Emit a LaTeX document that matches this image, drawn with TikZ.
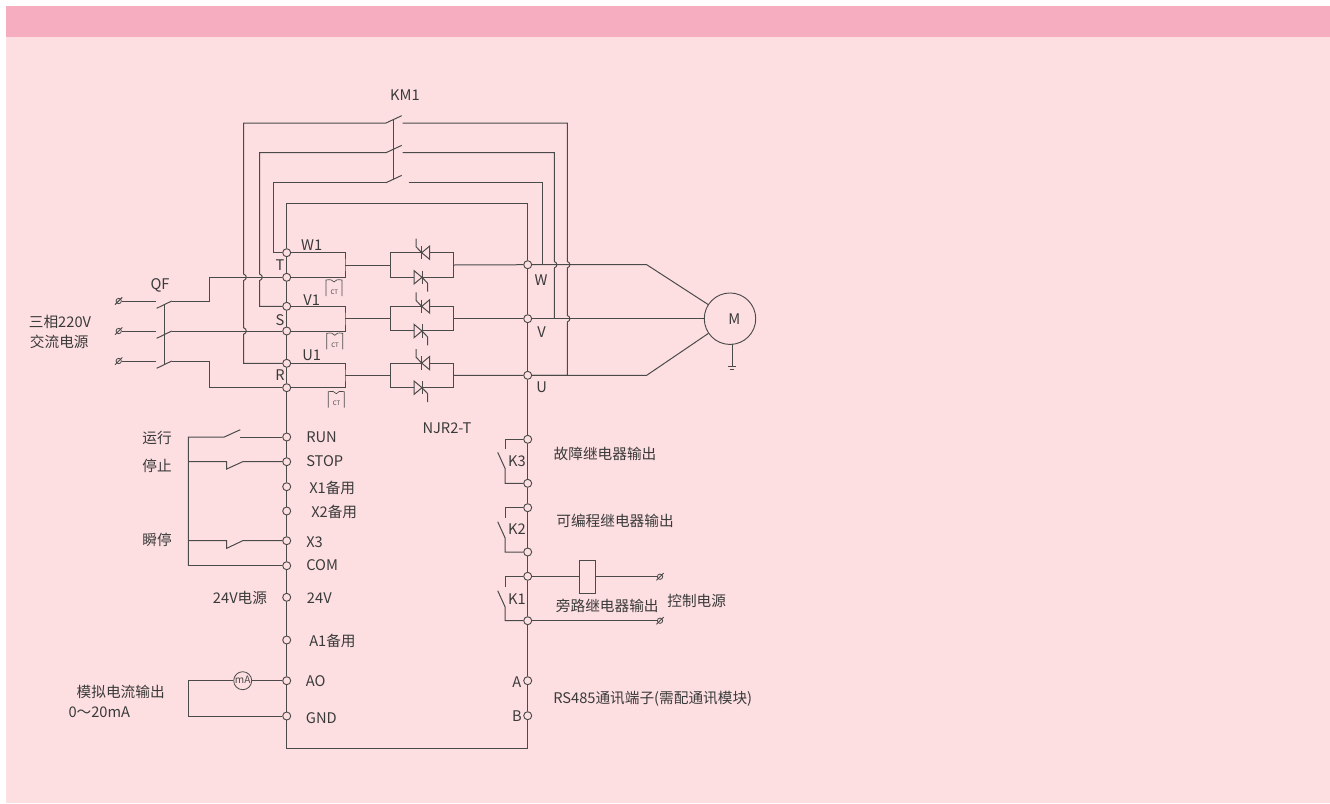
\documentclass[tikz,border=0pt]{standalone}
\usepackage{fontspec}
\setmainfont{Noto Sans CJK SC}
\definecolor{panel}{HTML}{FDDFE2}
\definecolor{band}{HTML}{F7ADC0}
\definecolor{ink}{HTML}{4A4A4A}
\definecolor{txt}{HTML}{3A3A3A}
\tikzset{
  wire/.style={draw=ink,line width=0.75pt,line join=miter},
  thin wire/.style={draw=ink,line width=0.5pt},
  term/.style={circle,draw=ink,fill=panel,line width=0.7pt,inner sep=0pt,minimum size=6pt},
  tip/.style={circle,draw=ink,fill=panel,line width=0.6pt,inner sep=0pt,minimum size=4pt},
  lbl/.style={text=txt,inner sep=0pt,font=\fontsize{11pt}{13pt}\selectfont},
  lbw/.style={lbl,anchor=west},
  thypair/.pic={
    \draw[wire,fill=panel] (8,-6.7) -- (0,0) -- (8,6.7) -- cycle;
    \draw[wire] (0,-6.7) -- (0,6.7);
    \draw[wire] (0,0) -- (-5.7,-6) -- (-5.7,-14);
  },
  thydown/.pic={
    \draw[wire,fill=panel] (-8,-6.7) -- (0,0) -- (-8,6.7) -- cycle;
    \draw[wire] (0,-6.7) -- (0,6.7);
    \draw[wire] (0,0) -- (5.7,6) -- (5.7,14.4);
  },
  ctcoil/.pic={
    \draw[thin wire] (0,16) -- (0,0) .. controls (4,-0.6) and (7,-0.4) .. (8,2) .. controls (9,-0.4) and (12,-0.6) .. (16,0) -- (16,16);
    \node[text=ink,inner sep=0pt,font=\fontsize{4.6pt}{5pt}\selectfont] at (8.3,12) {CT};
  }
}
\newcommand{\hopv}[2]{-- (#1,#2-3.2) .. controls (#1+3.4,#2-2.2) and (#1+3.4,#2+2.2) .. (#1,#2+3.2)}
\begin{document}
\begin{tikzpicture}[x=0.75pt,y=-0.75pt]
\useasboundingbox (0,0) rectangle (1330,803);
\fill[white] (0,0) rectangle (1330,803);
\fill[panel] (6,6) rectangle (1330,803);
\fill[band] (6,6) rectangle (1330,37);

% ---- terminals, inverter left side
\foreach \n/\y in {W1/252.7,T/277.3,V1/306.3,S/331,U1/363.3,R/387.7,RUN/437,STOP/461.7,Xa/486.7,Xb/511,Xc/540.7,COM/565.7,Pw/597.3,Aa/640,AO/680.7,GND/716}
  \node[term] (\n) at (286.7,\y) {};
% ---- terminals, inverter right side
\foreach \n/\y in {W/264.7,V/318.7,U/375.3,KcT/439.3,KcB/483.3,KbT/507.7,KbB/552,KaT/576.3,KaB/620.7,A/680.7,B/715.7}
  \node[term] (\n) at (527.7,\y) {};

% ---- frame corners
\coordinate (tl) at (286.7,203);
\coordinate (tr) at (527.7,203);
\coordinate (bl) at (286.7,748.7);
\coordinate (br) at (527.7,748.7);
\draw[wire] (tl) -- (W1) -- (T) -- (V1) -- (S) -- (U1) -- (R) -- (RUN) -- (STOP) -- (Xa) -- (Xb) -- (Xc) -- (COM) -- (Pw) -- (Aa) -- (AO) -- (GND) -- (bl) -- (br) -- (B) -- (A) -- (KaB) -- (KaT) -- (KbB) -- (KbT) -- (KcB) -- (KcT) -- (U) -- (V) -- (W) -- (tr) -- (tl);

% ---- thyristor pairs and phase boxes
\foreach \n/\t/\b/\m/\o in {W/W1/T/265/W,V/V1/S/318.7/V,U/U1/R/375.4/U}{
  \node[draw=ink,line width=0.75pt,minimum width=47.5pt,minimum height=18.4pt,inner sep=0pt] (thy\n) at (421.7,\m) {};
  \coordinate (box\n) at (345,\m);
  \draw[wire] (\t) -| (box\n) |- (\b);
  \draw[wire] (box\n) -- (thy\n.west);
  \draw[wire] (thy\n.east) -- (\o);
  \pic at (421.7,\m-12.3) {thypair};
  \pic at (422,\m+12.3) {thydown};
}
\pic at (326,280) {ctcoil};
\pic at (326.7,333.3) {ctcoil};
\pic at (328.3,391.7) {ctcoil};

% ---- KM1 contactor
\foreach \n/\y/\xa/\xb in {a/123/243.7/402.7,b/152.7/259.7/402.7,c/182.7/273.3/408.7}{
  \coordinate (km\n L) at (386,\y);
  \coordinate (km\n B) at (401.7,\y-7.3);
  \coordinate (km\n R) at (\xb,\y);
  \coordinate (km\n F) at (\xa,\y);
  \draw[wire] (km\n L) -- (km\n B);
}
\coordinate (kmT) at (393.3,119);
\coordinate (kmD) at (393.3,179);
\draw[wire] (kmT) -- (kmD);
\coordinate (kmaE) at (567.3,123);
\coordinate (kmbE) at (554.3,152.7);
\coordinate (kmcE) at (542.3,182.7);

% bypass wires
\draw[wire] (U1) -| (243.7,331+3.2) .. controls (243.7+3.4,331+2.2) and (243.7+3.4,331-2.2) .. (243.7,331-3.2) -- (243.7,277.3+3.2) .. controls (243.7+3.4,277.3+2.2) and (243.7+3.4,277.3-2.2) .. (243.7,277.3-3.2) |- (kmaL);
\draw[wire] (V1) -| (259.7,277.3+3.2) .. controls (259.7+3.4,277.3+2.2) and (259.7+3.4,277.3-2.2) .. (259.7,277.3-3.2) |- (kmbL);
\draw[wire] (W1) -| (kmcF) -- (kmcL);
\draw[wire] (kmaR) -- (kmaE) \hopv{567.3}{264.7} \hopv{567.3}{318.7} |- (U);
\draw[wire] (kmbR) -- (kmbE) \hopv{554.3}{264.7} -- (554.3,318.7);
\draw[wire] (kmcR) -- (kmcE) -- (542.3,264.7);

% ---- QF breaker and mains
\foreach \n/\y in {a/301,b/331,c/361}{
  \node[tip] (tip\n) at (118.7,\y) {};
  \draw[wire] ([shift={(-3.6,3.6)}]tip\n.center) -- ([shift={(3.6,-3.6)}]tip\n.center);
  \coordinate (qf\n I) at (156,\y);
  \coordinate (qf\n A) at (156.7,\y+7.3);
  \coordinate (qf\n B) at (171.7,\y);
  \draw[wire] (tip\n) -- (qf\n I);
  \draw[wire] (qf\n A) -- (qf\n B);
}
\coordinate (qfT) at (164.3,304);
\coordinate (qfD) at (164.3,364.3);
\draw[wire] (qfT) -- (qfD);
\draw[wire] (qfaB) -| (209.3,277.3) -- (T);
\draw[wire] (qfbB) -- (S);
\draw[wire] (qfcB) -| (209.3,387.7) -- (R);

% ---- motor
\node[circle,draw=ink,line width=0.7pt,minimum size=38.6pt,inner sep=0pt] (mot) at (730,318.7) {};
\coordinate (bendW) at (646.7,264.7);
\coordinate (bendU) at (646.7,375.3);
\draw[wire] (W) -- (bendW) -- (mot);
\draw[wire] (V) -- (mot);
\draw[wire] (U) -- (bendU) -- (mot);
\coordinate (gnd) at (732.3,366.7);
\draw[thin wire] (732.3,344.3) -- (gnd);
\draw[thin wire] (728.3,366.7) -- (736.3,366.7);
\draw[thin wire] (730.3,369) -- (734.3,369);

% ---- digital inputs
\coordinate (busT) at (188.3,437);
\coordinate (busB) at (188.3,565.7);
\draw[wire] (busB) -- (busT) -- (224.3,437) -- (240.3,429.7);
\coordinate (runR) at (240.3,437);
\draw[wire] (runR) -- (RUN);
\draw[wire] (188.3,461.7) -- (226.7,461.7) -- (226.7,469) -- (242.7,461.7) -- (STOP);
\draw[wire] (188.3,540.7) -- (226.7,540.7) -- (226.7,548.3) -- (242.7,540.7) -- (Xc);
\draw[wire] (busB) -- (COM);

% ---- mA meter
\node[circle,draw=ink,line width=0.6pt,minimum size=13.5pt,inner sep=0pt] (meter) at (242.7,680.7) {};
\node[text=ink,inner sep=0pt,font=\fontsize{7.6pt}{8pt}\selectfont] (meterT) at (242.7,680.2) {mA};
\draw[wire] (meter) -- (AO);
\draw[wire] (meter) -| (188.3,716) -- (GND);

% ---- relay contacts
\foreach \t/\b/\yb/\yc/\yd in {KcT/KcB/449.3/452.3/468.3,KbT/KbB/517.7/521.7/537.7,KaT/KaB/586.7/590.7/606.7}{
  \draw[wire] (\t) -| (505,\yb);
  \draw[wire] (497.7,\yc) -- (505,\yd) |- (\b);
}

% ---- coil and control supply
\node[draw=ink,line width=0.7pt,minimum width=12pt,minimum height=25pt,inner sep=0pt] (coil) at (587,577) {};
\node[tip] (tipd) at (660,576.7) {};
\draw[wire] ([shift={(-3.6,3.6)}]tipd.center) -- ([shift={(3.6,-3.6)}]tipd.center);
\node[tip] (tipe) at (660,620.7) {};
\draw[wire] ([shift={(-3.6,3.6)}]tipe.center) -- ([shift={(3.6,-3.6)}]tipe.center);
\draw[wire] (KaT) -- (coil.west |- KaT);
\draw[wire] (coil.east |- tipd) -- (tipd);
\draw[wire] (KaB) -- (tipe);

% ---- labels
\node[lbl] (tKM) at (405,95) {KM1};
\node[lbl] (tQF) at (160,285) {QF};
\node[lbl] (tTa) at (280,265) {T};
\node[lbl] (tS) at (280,320) {S};
\node[lbl] (tR) at (280,375.5) {R};
\node[lbl] (tW1) at (311.7,245) {W1};
\node[lbl] (tV1) at (311.7,299.7) {V1};
\node[lbl] (tU1) at (311.7,355.7) {U1};
\node[lbl] (tW) at (541,280) {W};
\node[lbl] (tV) at (541.7,331.7) {V};
\node[lbl] (tU) at (541.7,387.7) {U};
\node[lbl] (tM) at (734.3,319.5) {M};
\node[lbl] (tNJR) at (447,428) {NJR2-T};
\node[lbl] (t3a) at (60,321.7) {三相220V};
\node[lbl] (t3b) at (59.3,342) {交流电源};
\node[lbl] (tRunC) at (157,437.7) {运行};
\node[lbl] (tStopC) at (157,465.7) {停止};
\node[lbl] (tInst) at (157,540) {瞬停};
\node[lbw] (tRUN) at (306,437) {RUN};
\node[lbw] (tSTOP) at (306,461.5) {STOP};
\node[lbw] (tX1) at (309,488) {X1备用};
\node[lbw] (tX2) at (311,512) {X2备用};
\node[lbw] (tX3) at (306,542) {X3};
\node[lbw] (tCOM) at (306,565) {COM};
\node[lbl] (t24a) at (240,597.7) {24V电源};
\node[lbw] (t24) at (306.7,598) {24V};
\node[lbw] (tA1) at (309,640.5) {A1备用};
\node[lbw] (tAO) at (305.7,680.7) {AO};
\node[lbw] (tGND) at (305.7,718.5) {GND};
\node[lbl] (tAna) at (120.7,692) {模拟电流输出};
\node[lbl] (tRng) at (99.3,712.7) {0～20mA};
\node[lbl] (tK3) at (517,461.7) {K3};
\node[lbl] (tK2) at (517,529.3) {K2};
\node[lbl] (tK1) at (517,598.7) {K1};
\node[lbl] (tF) at (605,454) {故障继电器输出};
\node[lbl] (tP) at (615,521) {可编程继电器输出};
\node[lbl] (tB) at (607.3,606) {旁路继电器输出};
\node[lbl] (tC) at (696.7,601) {控制电源};
\node[lbl] (tA) at (516.7,682.5) {A};
\node[lbl] (tBb) at (517,716) {B};
\node[lbw] (tRS) at (553,699) {RS485通讯端子(需配通讯模块)};
\end{tikzpicture}
\end{document}
